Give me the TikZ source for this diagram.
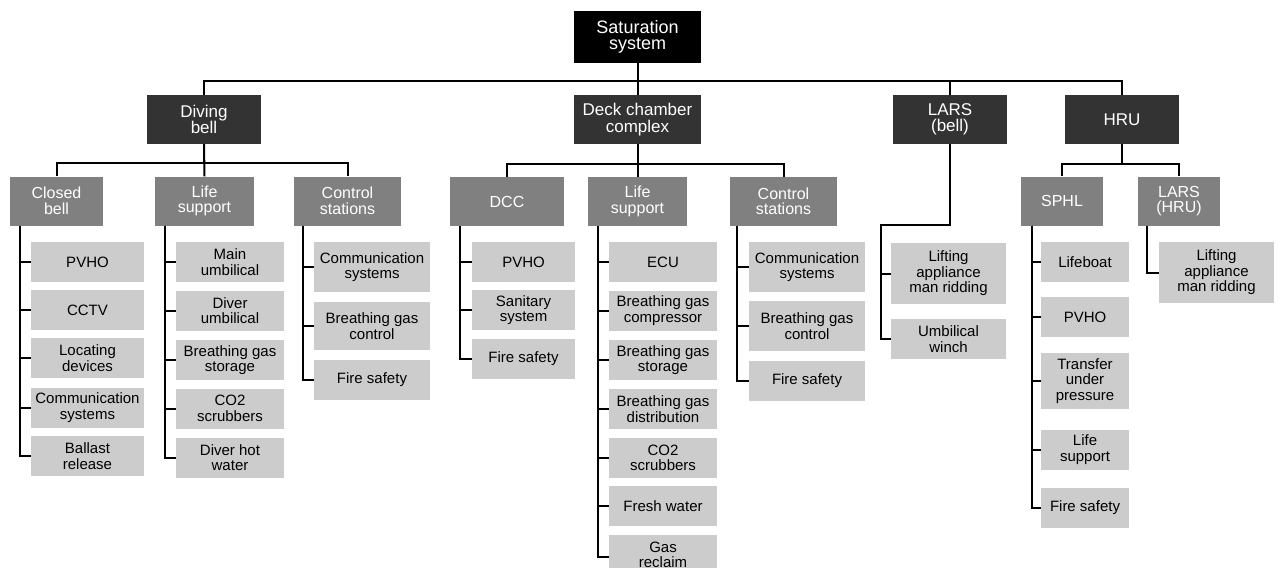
\documentclass[tikz,border=0pt]{standalone}
\usepackage{fontspec}
\setmainfont{Liberation Sans}
\definecolor{cA}{HTML}{000000}
\definecolor{cB}{HTML}{333333}
\definecolor{cC}{HTML}{808080}
\definecolor{cD}{HTML}{CCCCCC}
\tikzset{
  box/.style={inner sep=0pt, align=center, anchor=center},
  Lzero/.style={box, fill=cA, text=white, font=\fontsize{18}{16}\selectfont, minimum width=127pt, minimum height=52pt},
  Lone/.style={box, fill=cB, text=white, font=\fontsize{17}{16.5}\selectfont, minimum height=49pt},
  Ltwo/.style={box, fill=cC, text=white, font=\fontsize{16}{15.5}\selectfont, minimum height=49pt},
  Lthree/.style={box, fill=cD, text=black, font=\fontsize{15}{15.5}\selectfont, minimum height=40pt},
  conn/.style={draw=black, line width=2pt},
}
\begin{document}
\begin{tikzpicture}[x=1pt,y=-1pt]
\useasboundingbox (0,0) rectangle (1281,567);
% level 0
\node[Lzero] (sat) at (637.5,37) {Saturation\\system};
% level 1
\node[Lone, minimum width=114pt] (db) at (204,119.5) {Diving\\bell};
\node[Lone, minimum width=127pt] (dc) at (637.5,119.5) {Deck chamber\\complex};
\node[Lone, minimum width=114pt] (lb) at (950,119.5) {LARS\\(bell)};
\node[Lone, minimum width=114pt] (hr) at (1122,119.5) {HRU};
% level 2
\node[Ltwo, minimum width=93pt] (cb) at (56.5,201) {Closed\\bell};
\node[Ltwo, minimum width=99pt] (ls) at (204.5,201) {Life\\support};
\node[Ltwo, minimum width=107pt] (cs) at (347.5,201) {Control\\stations};
\node[Ltwo, minimum width=114pt] (dcc) at (507,201.5) {DCC};
\node[Ltwo, minimum width=99pt] (lsd) at (637.5,201.5) {Life\\support};
\node[Ltwo, minimum width=107pt] (csd) at (783.5,201.5) {Control\\stations};
\node[Ltwo, minimum width=82pt] (sp) at (1062,201) {SPHL};
\node[Ltwo, minimum width=82pt] (lh) at (1179,201) {LARS\\(HRU)};
% level 3 - closed bell
\node[Lthree, minimum width=113pt] (a1) at (87.5,262) {PVHO};
\node[Lthree, minimum width=113pt] (a2) at (87.5,310) {CCTV};
\node[Lthree, minimum width=113pt] (a3) at (87.5,358) {Locating\\devices};
\node[Lthree, minimum width=113pt] (a4) at (87.5,407.5) {Communication\\systems};
\node[Lthree, minimum width=113pt] (a5) at (87.5,456) {Ballast\\release};
% life support (bell)
\node[Lthree, minimum width=108pt] (b1) at (230,262) {Main\\umbilical};
\node[Lthree, minimum width=108pt] (b2) at (230,310.5) {Diver\\umbilical};
\node[Lthree, minimum width=108pt] (b3) at (230,360) {Breathing gas\\storage};
\node[Lthree, minimum width=108pt] (b4) at (230,408.5) {CO2\\scrubbers};
\node[Lthree, minimum width=108pt] (b5) at (230,457.5) {Diver hot\\water};
% control stations (bell)
\node[Lthree, minimum width=116pt, minimum height=50pt] (c1) at (372,267) {Communication\\systems};
\node[Lthree, minimum width=116pt, minimum height=48pt] (c2) at (372,326) {Breathing gas\\control};
\node[Lthree, minimum width=116pt] (c3) at (372,380) {Fire safety};
% DCC
\node[Lthree, minimum width=103pt] (d1) at (523.5,262) {PVHO};
\node[Lthree, minimum width=103pt] (d2) at (523.5,310) {Sanitary\\system};
\node[Lthree, minimum width=103pt] (d3) at (523.5,359) {Fire safety};
% life support (deck)
\node[Lthree, minimum width=108pt] (e1) at (663,262) {ECU};
\node[Lthree, minimum width=108pt] (e2) at (663,310.5) {Breathing gas\\compressor};
\node[Lthree, minimum width=108pt] (e3) at (663,360) {Breathing gas\\storage};
\node[Lthree, minimum width=108pt] (e4) at (663,409) {Breathing gas\\distribution};
\node[Lthree, minimum width=108pt] (e5) at (663,458) {CO2\\scrubbers};
\node[Lthree, minimum width=108pt] (e6) at (663,506) {Fresh water};
\node[Lthree, minimum width=108pt] (e7) at (663,555) {Gas\\reclaim};
% control stations (deck)
\node[Lthree, minimum width=116pt, minimum height=50pt] (f1) at (807,267) {Communication\\systems};
\node[Lthree, minimum width=116pt, minimum height=50pt] (f2) at (807,326) {Breathing gas\\control};
\node[Lthree, minimum width=116pt] (f3) at (807,381) {Fire safety};
% LARS (bell)
\node[Lthree, minimum width=115pt, minimum height=61pt] (g1) at (948.5,273.5) {Lifting\\appliance\\man ridding};
\node[Lthree, minimum width=115pt] (g2) at (948.5,339) {Umbilical\\winch};
% SPHL
\node[Lthree, minimum width=88pt] (h1) at (1085,262) {Lifeboat};
\node[Lthree, minimum width=88pt] (h2) at (1085,317) {PVHO};
\node[Lthree, minimum width=88pt, minimum height=56pt] (h3) at (1085,381) {Transfer\\under\\pressure};
\node[Lthree, minimum width=88pt] (h4) at (1085,449.5) {Life\\support};
\node[Lthree, minimum width=88pt] (h5) at (1085,508) {Fire safety};
% LARS (HRU)
\node[Lthree, minimum width=115pt, minimum height=61pt] (i1) at (1216.5,272.5) {Lifting\\appliance\\man ridding};
% connectors level 0 -> 1
\draw[conn] (sat.south) -- ++(0,18) -| (db.north);
\draw[conn] (sat.south) -- ++(0,18) -| (hr.north);
\draw[conn] (sat.south) -- (dc.north);
\draw[conn] (sat.south) -- ++(0,18) -| (lb.north);
% level 1 -> 2
\draw[conn] (db.south) -- ++(0,19) -| (cb.north);
\draw[conn] (db.south) -- ++(0,19) -| (cs.north);
\draw[conn] (db.south) -- (ls.north);
\draw[conn] (dc.south) -- ++(0,20) -| (dcc.north);
\draw[conn] (dc.south) -- ++(0,20) -| (csd.north);
\draw[conn] (dc.south) -- (lsd.north);
\draw[conn] (hr.south) -- ++(0,20) -| (sp.north);
\draw[conn] (hr.south) -- ++(0,20) -| (lh.north);
\coordinate (gsp) at (881,225);
\draw[conn] (lb.south) |- (gsp) |- (g1.west);
\draw[conn] (gsp) |- (g2.west);
% level 2 -> 3
\foreach \c in {a1,a2,a3,a4,a5} \draw[conn] ([xshift=10pt]cb.south west) |- (\c.west);
\foreach \c in {b1,b2,b3,b4,b5} \draw[conn] ([xshift=10pt]ls.south west) |- (\c.west);
\foreach \c in {c1,c2,c3} \draw[conn] ([xshift=9pt]cs.south west) |- (\c.west);
\foreach \c in {d1,d2,d3} \draw[conn] ([xshift=10pt]dcc.south west) |- (\c.west);
\foreach \c in {e1,e2,e3,e4,e5,e6} \draw[conn] ([xshift=10pt]lsd.south west) |- (\c.west);
\draw[conn] ([xshift=10pt]lsd.south west) |- (e7.west |- 0,557);
\foreach \c in {f1,f2,f3} \draw[conn] ([xshift=7pt]csd.south west) |- (\c.west);
\foreach \c in {h1,h2,h3,h4,h5} \draw[conn] ([xshift=11pt]sp.south west) |- (\c.west);
\draw[conn] ([xshift=9pt]lh.south west) |- (i1.west);
\end{tikzpicture}
\end{document}
